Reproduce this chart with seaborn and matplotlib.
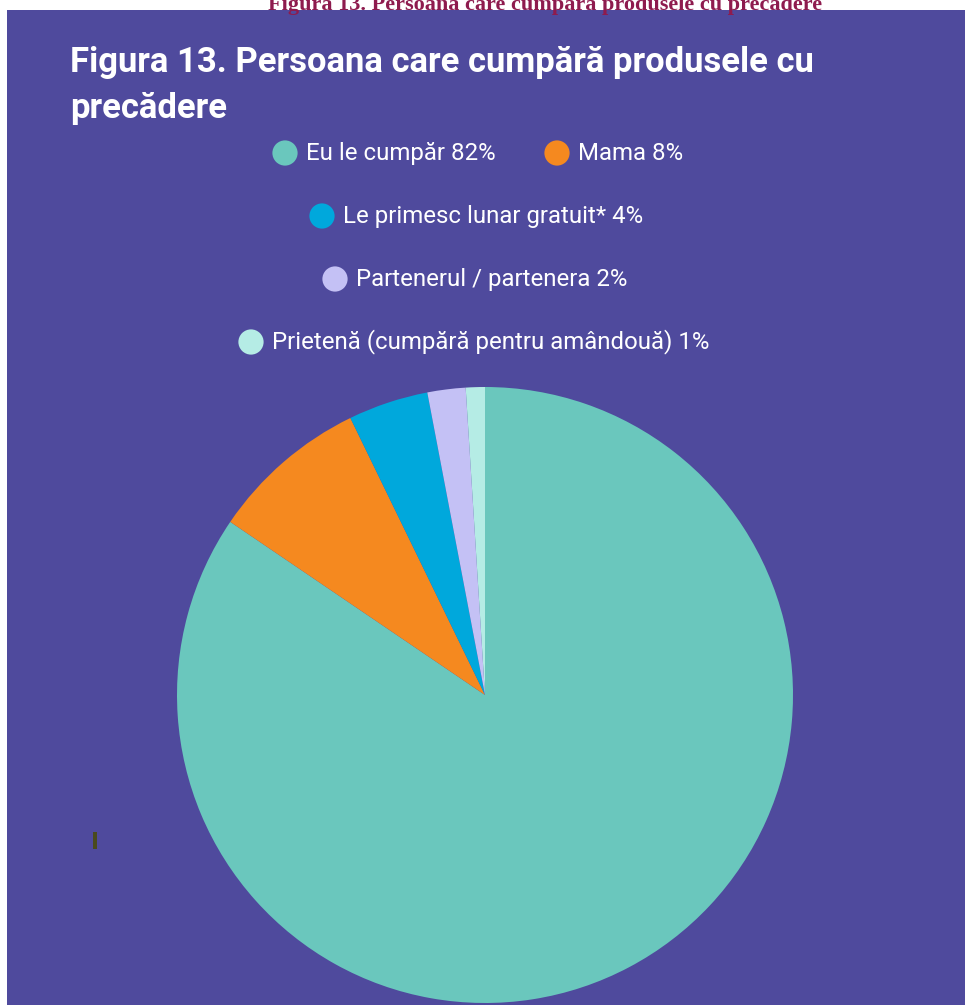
import matplotlib
matplotlib.use("Agg")
import matplotlib.pyplot as plt
import matplotlib.patches as mpatches
import seaborn as sns

# data
labels = ["Eu le cumpăr 82%", "Mama 8%", "Le primesc lunar gratuit* 4%",
          "Partenerul / partenera 2%", "Prietenă (cumpără pentru amândouă) 1%"]
shares = [84.5, 8.3, 4.2, 2.0, 1.0]   # slice sizes as measured from the angles
colors = ["#6AC7BD", "#F5891F", "#00A8DC", "#C4C1F5", "#B5ECE5"]

BG = "#4F4A9D"
W, H = 965, 1005

sns.set_theme(style="white")
plt.rcParams["font.family"] = ["Roboto", "DejaVu Sans"]
palette = sns.color_palette(colors)

fig = plt.figure(figsize=(W / 100, H / 100), dpi=100)
fig.patch.set_facecolor("white")

# overlay axes in pixel coordinates (y down)
ov = fig.add_axes([0, 0, 1, 1])
ov.set_xlim(0, W)
ov.set_ylim(H, 0)
ov.axis("off")
ov.add_patch(mpatches.Rectangle((7, 10), W - 7, H - 10, facecolor=BG, edgecolor="none"))
ov.add_patch(mpatches.Rectangle((93, 832), 4, 17, facecolor="#4A4A1E", edgecolor="none"))

# caption cut off at the top in the source page
ov.text(545, 5, "Figura 13. Persoana care cumpără produsele cu precădere",
        ha="center", va="center", fontsize=16, fontweight="bold",
        color="#8E1B4E", family="Liberation Serif")

# title
ov.text(70, 62, "Figura 13. Persoana care cumpără produsele cu", ha="left", va="center",
        fontsize=24.9, fontweight="bold", color="white")
ov.text(70, 108, "precădere", ha="left", va="center",
        fontsize=24.9, fontweight="bold", color="white")

# legend
leg_pos = [(285, 153), (557, 153), (322, 216), (335, 279), (251, 342)]
for (x, y), lab, c in zip(leg_pos, labels, palette):
    ov.scatter([x], [y], s=330, color=c, edgecolors="none")
    ov.text(x + 21, y, lab, ha="left", va="center", fontsize=17.3, color="white")

# pie
cx, cy, r = 485, 695, 308
pie_ax = fig.add_axes([(cx - r) / W, (H - cy - r) / H, 2 * r / W, 2 * r / H])
pie_ax.pie(shares, colors=palette, startangle=90, counterclock=False,
           wedgeprops=dict(linewidth=0))
pie_ax.set_xlim(-1, 1)
pie_ax.set_ylim(-1, 1)
pie_ax.set_aspect("equal")
pie_ax.axis("off")

fig.savefig("out.png", dpi=100, facecolor=fig.get_facecolor())
